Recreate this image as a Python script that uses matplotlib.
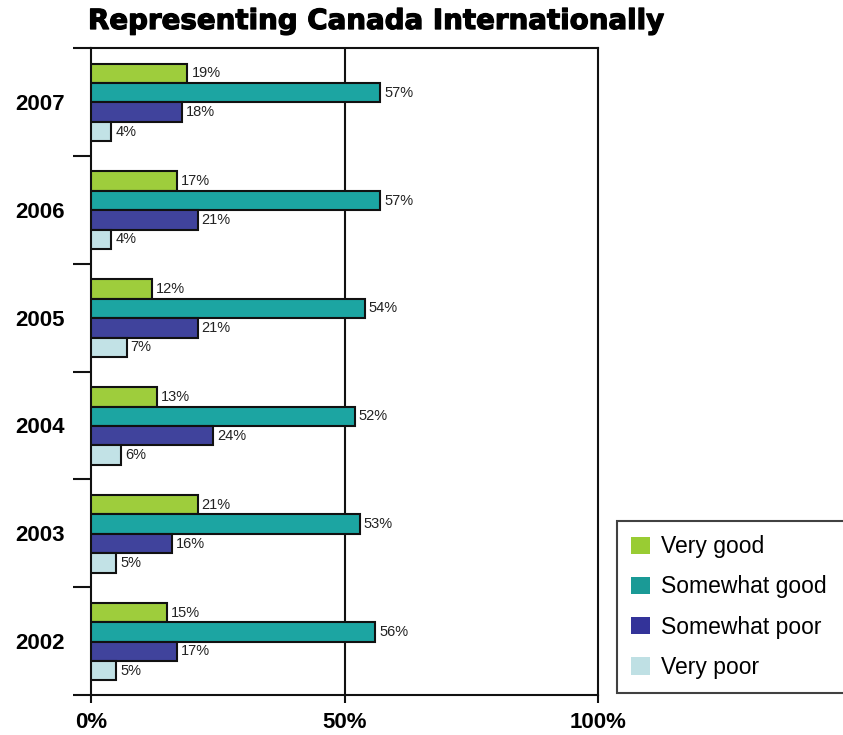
import numpy as np
import matplotlib
matplotlib.use('Agg')
import matplotlib.pyplot as plt
import matplotlib.patheffects as pe
from matplotlib.patches import Patch

plt.rcParams['font.family'] = ['Liberation Sans', 'DejaVu Sans']

years = ['2002', '2003', '2004', '2005', '2006', '2007']
series = ['Very good', 'Somewhat good', 'Somewhat poor', 'Very poor']
very_good = [15, 21, 13, 12, 17, 19]
somewhat_good = [56, 53, 52, 54, 57, 57]
somewhat_poor = [17, 16, 24, 21, 21, 18]
very_poor = [5, 5, 6, 7, 4, 4]
colors = ['#9ecd3c', '#1ca5a2', '#40439c', '#c2e2e6']
legend_colors = ['#99cc33', '#1a9a96', '#333399', '#bfe0e4']

values = [very_good, somewhat_good, somewhat_poor, very_poor]

fig = plt.figure(figsize=(8.43, 7.35), dpi=100)
ax = fig.add_axes([0.108, 0.0544, 0.6014, 0.8803])

h = 0.18
offsets = [0.765, 0.585, 0.405, 0.225]
base = np.arange(len(years))
for k, (vals, col) in enumerate(zip(values, colors)):
    ys = base + offsets[k]
    bars = ax.barh(ys, vals, height=h, color=col, edgecolor='#111111',
                   linewidth=1.5, zorder=3)
    for b, v in zip(bars, vals):
        ax.text(b.get_width() + 0.8, b.get_y() + h / 2, f'{v}%',
                va='center', ha='left', fontsize=10.5, color='#222222')

ax.axvline(50, color='#111111', linewidth=1.5, zorder=1)

ax.set_xlim(0, 100)
ax.set_ylim(0, len(years))

ax.set_xticks([0, 50, 100])
ax.set_xticklabels(['0%', '50%', '100%'], fontsize=16, fontweight='bold')
ax.tick_params(axis='x', length=6, width=1.5, pad=6, color='#111111')

ax.set_yticks(np.arange(len(years) + 1))
ax.set_yticklabels([])
ax.tick_params(axis='y', which='major', length=13, width=1.5, color='#111111')
ax.set_yticks(base + 0.5, minor=True)
ax.set_yticklabels(years, minor=True, fontsize=16, fontweight='bold')
ax.tick_params(axis='y', which='minor', length=0, pad=19)

for s in ax.spines.values():
    s.set_linewidth(1.5)
    s.set_color('#111111')

handles = [Patch(facecolor=c, edgecolor='none', label=l)
           for c, l in zip(legend_colors, series)]
leg = fig.legend(handles=handles, loc='lower left',
                 bbox_to_anchor=(617 / 843, 1 - 693 / 735, 0.3, 0.24),
                 mode='expand', fontsize=16.5, frameon=True, fancybox=False,
                 handlelength=0.8, handleheight=0.8, labelspacing=0.75,
                 borderpad=0.62, handletextpad=0.5, borderaxespad=0)
leg.get_frame().set_edgecolor('#111111')
leg.get_frame().set_linewidth(1.5)

title = fig.text(88 / 843, 1 - 21 / 735, 'Representing Canada Internationally',
                 fontsize=18, fontweight='bold', family='DejaVu Sans',
                 ha='left', va='center',
                 path_effects=[pe.withStroke(linewidth=0.9, foreground='black')])
# fit the title to the reference width (about 580 px)
fig.canvas.draw()
w = title.get_window_extent().width
title.set_fontsize(18 * 578 / w)

fig.savefig('out.png', dpi=100)
